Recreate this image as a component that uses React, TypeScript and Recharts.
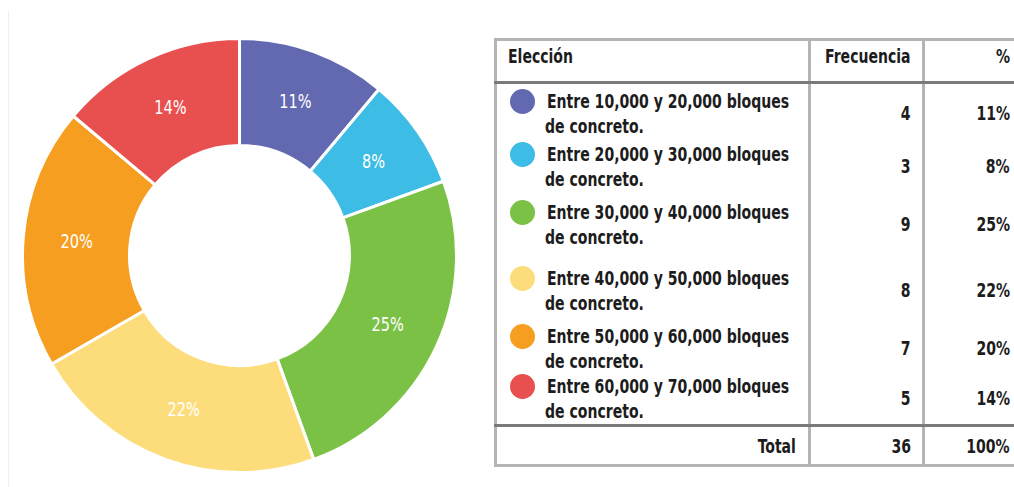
import type { CSSProperties, ReactNode } from "react";
import { Cell, Pie, PieChart } from "recharts";

// Encuesta: cantidad de bloques de concreto
const categories = [
  "Entre 10,000 y 20,000 bloques",
  "Entre 20,000 y 30,000 bloques",
  "Entre 30,000 y 40,000 bloques",
  "Entre 40,000 y 50,000 bloques",
  "Entre 50,000 y 60,000 bloques",
  "Entre 60,000 y 70,000 bloques",
];
const frecuencias = [4, 3, 9, 8, 7, 5];
const porcentajes = ["11%", "8%", "25%", "22%", "20%", "14%"];
const totalFrecuencia = 36;
const totalPorcentaje = "100%";
const colors = ["#6369b0", "#3dbce5", "#7bc146", "#fddd7b", "#f59e20", "#e85050"];

// top of each legend block (two text lines), page coords
const rowTops = [88.5, 141.5, 199.5, 265.5, 323.5, 373.5];

const RAD = Math.PI / 180;
const FONT = '"DejaVu Sans Condensed", "DejaVu Sans", sans-serif';
const SQUEEZE = 0.78;

const data = categories.map((name, i) => ({ name, value: frecuencias[i] }));

function renderLabel(props: any) {
  const { cx, cy, midAngle, innerRadius, outerRadius, index } = props;
  const r = (innerRadius + outerRadius) / 2;
  const x = cx + r * Math.cos(-midAngle * RAD);
  const y = cy + r * Math.sin(-midAngle * RAD);
  return (
    <text
      x={x}
      y={y}
      fill="#ffffff"
      fontSize={19}
      fontFamily={FONT}
      textAnchor="middle"
      dominantBaseline="central"
      transform={`translate(${x} ${y}) scale(0.85 1) translate(${-x} ${-y})`}
    >
      {porcentajes[index]}
    </text>
  );
}

// narrow bold text, anchored left or right at x
function Txt({
  x,
  y,
  align = "left",
  size = 20,
  children,
}: {
  x: number;
  y: number;
  align?: "left" | "right";
  size?: number;
  children: ReactNode;
}) {
  const pos: CSSProperties =
    align === "left" ? { left: x } : { right: 1014 - x };
  return (
    <div
      style={{
        position: "absolute",
        top: y,
        ...pos,
        fontSize: size,
        fontWeight: 700,
        lineHeight: "25px",
        whiteSpace: "nowrap",
        transform: `scaleX(${SQUEEZE})`,
        transformOrigin: align,
      }}
    >
      {children}
    </div>
  );
}

const lightLine = "#b4b4b4";
const darkLine = "#7a7a7a";

export default function App() {
  return (
    <div
      style={{
        position: "absolute",
        left: 0,
        top: 0,
        width: 1014,
        height: 487,
        overflow: "hidden",
        background: "#fff",
        fontFamily: FONT,
        color: "#1c1c1c",
      }}
    >
      <div style={{ position: "absolute", left: 8, top: 11, width: 1, height: 476, background: "#efefef" }} />
      <div style={{ position: "absolute", left: 0, top: 0 }}>
        <PieChart width={480} height={487}>
          <Pie
            data={data}
            dataKey="value"
            cx={234.5}
            cy={250.5}
            innerRadius={110}
            outerRadius={217}
            startAngle={90}
            endAngle={-270}
            stroke="#ffffff"
            strokeWidth={3}
            label={renderLabel}
            labelLine={false}
            isAnimationActive={false}
          >
            {data.map((d, i) => (
              <Cell key={d.name} fill={colors[i]} />
            ))}
          </Pie>
        </PieChart>
      </div>

      {/* tabla */}
      <div
        style={{
          position: "absolute",
          left: 494,
          top: 38,
          width: 530,
          height: 429,
          boxSizing: "border-box",
          border: `3px solid ${lightLine}`,
        }}
      />
      <div style={{ position: "absolute", left: 807.5, top: 38, width: 3, height: 429, background: lightLine }} />
      <div style={{ position: "absolute", left: 921.5, top: 38, width: 3, height: 429, background: lightLine }} />
      <div style={{ position: "absolute", left: 494, top: 81, width: 530, height: 3, background: darkLine }} />
      <div style={{ position: "absolute", left: 494, top: 423.5, width: 530, height: 3, background: darkLine }} />

      {/* encabezado */}
      <Txt x={508} y={44}>
        Elección
      </Txt>
      <Txt x={911} y={44} align="right">
        Frecuencia
      </Txt>
      <Txt x={1010} y={44} align="right">
        %
      </Txt>

      {categories.map((c, i) => (
        <div key={c}>
          <div
            style={{
              position: "absolute",
              left: 510,
              top: rowTops[i] + 0.5,
              width: 25,
              height: 25,
              borderRadius: "50%",
              background: colors[i],
            }}
          />
          <Txt x={547} y={rowTops[i]}>
            {c}
          </Txt>
          <Txt x={545} y={rowTops[i] + 25}>
            de concreto.
          </Txt>
          <Txt x={911} y={rowTops[i] + 12.5} align="right">
            {frecuencias[i]}
          </Txt>
          <Txt x={1010} y={rowTops[i] + 12.5} align="right">
            {porcentajes[i]}
          </Txt>
        </div>
      ))}

      {/* total */}
      <Txt x={796} y={434} align="right">
        Total
      </Txt>
      <Txt x={911} y={434} align="right">
        {totalFrecuencia}
      </Txt>
      <Txt x={1010} y={434} align="right">
        {totalPorcentaje}
      </Txt>
    </div>
  );
}
